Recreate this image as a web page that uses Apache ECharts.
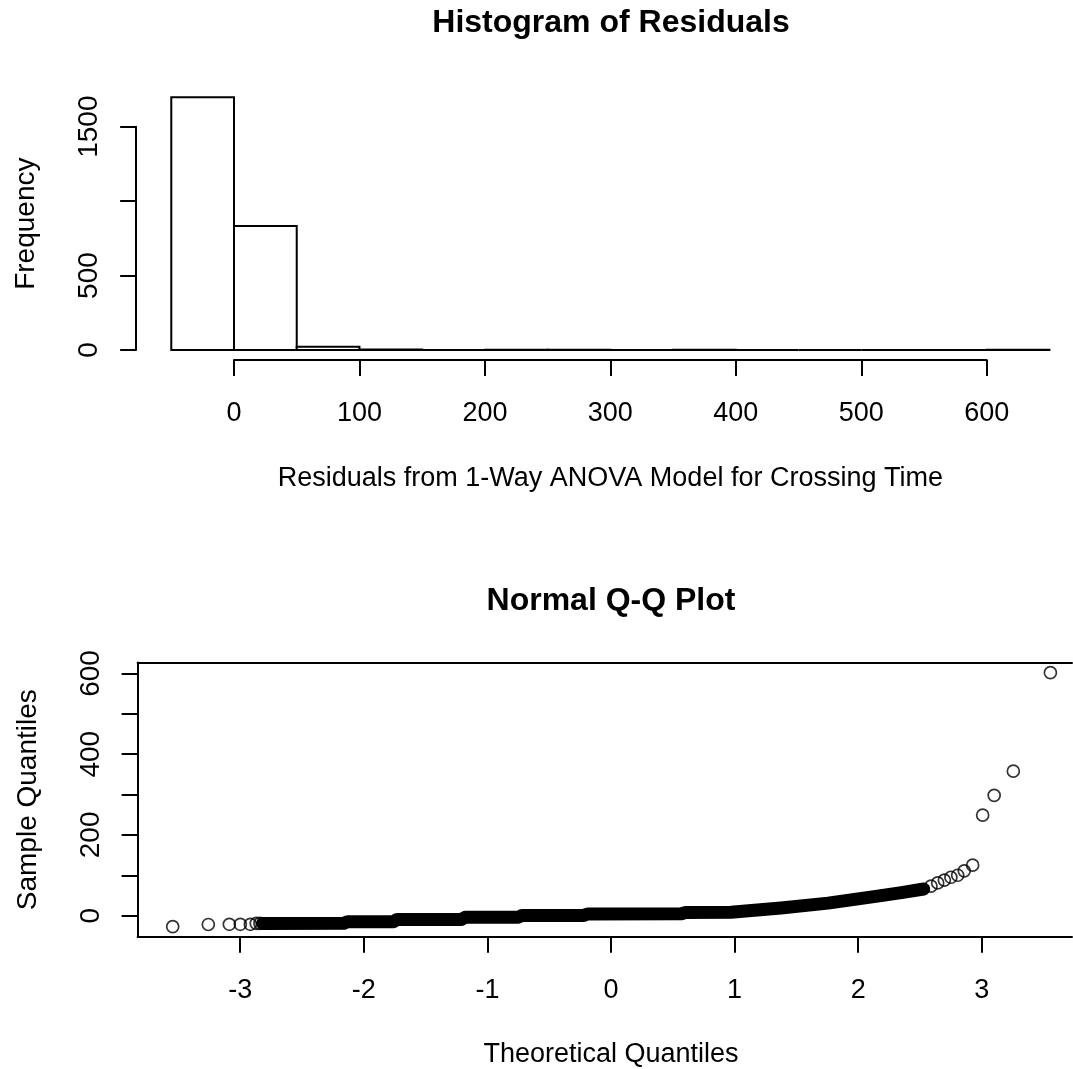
<!DOCTYPE html>
<html>
<head>
<meta charset="utf-8">
<script src="https://cdn.jsdelivr.net/npm/echarts@6/dist/echarts.min.js"></script>
<style>
html,body{margin:0;padding:0;background:#fff;}
#chart{width:1073px;height:1069px;}
</style>
</head>
<body>
<div id="chart"></div>
<script>
// ---------------- data ----------------
// Histogram of residuals: bin edges and counts
const histBreaks = [-50, 0, 50, 100, 150, 200, 250, 300, 350, 400, 450, 500, 550, 600, 650];
const histCounts = [1697, 833, 22, 4, 0, 1, 1, 0, 1, 0, 0, 0, 0, 1];
const histXTickLabels = ['0', '100', '200', '300', '400', '500', '600'];
const histYTickLabels = ['0', '500', '', '1500'];   // R drops the 1000 label

// Normal Q-Q plot: [theoretical quantile, sample quantile]
// sparse lower tail (individual circles)
const qqLowTailX = [-3.546, -3.258, -3.088, -2.999, -2.918, -2.87, -2.84];
const qqLowTailY = [-27.5, -22, -21.5, -21.5, -21.5, -19.5, -19.5];
// dense middle band (thousands of overlapping circles -> solid band)
const qqBandX = [-2.82, -2.16, -2.13, -1.76, -1.73, -1.21, -1.18, -0.75, -0.72, -0.22, -0.19, 0.57, 0.60, 0.97, 1.375, 1.756, 2.128, 2.35, 2.53];
const qqBandY = [-19.5, -19, -15, -15, -9.5, -9.5, -4, -4, 0.5, 0.5, 4, 4.5, 7.5, 8.5, 19, 31, 47, 57, 66];
// sparse upper tail (individual circles)
const qqHighTailX = [2.589, 2.643, 2.697, 2.75, 2.805, 2.858, 2.926, 3.007, 3.10, 3.255, 3.555];
const qqHighTailY = [73, 81, 88, 95, 100, 111, 125, 249, 298, 358, 602];
const qqXTickLabels = ['-3', '-2', '-1', '0', '1', '2', '3'];
const qqYTickLabels = ['0', '', '200', '', '400', '', '600'];

// ---------------- fonts ----------------
// The reference text is a tall, slightly condensed Arial: use Liberation Sans Narrow when present.
function hasFont(name) {
  const c = document.createElement('canvas').getContext('2d');
  const probe = 'Residuals from 1-Way ANOVA 0123456789';
  c.font = '40px monospace';
  const a = c.measureText(probe).width;
  c.font = '40px "' + name + '", monospace';
  const b = c.measureText(probe).width;
  return Math.abs(a - b) > 0.5;
}
const NARROW = hasFont('Liberation Sans Narrow');
const FONT = NARROW ? '"Liberation Sans Narrow", "Liberation Sans", Arial, sans-serif'
                    : '"Liberation Sans", Arial, Helvetica, sans-serif';
const TFONT = '"Liberation Sans", Arial, Helvetica, sans-serif';
const FS = NARROW ? 32 : 27;        // horizontal text
const FSR = NARROW ? 32.5 : 28;     // rotated text
const TFS = 32;
const INK = '#000';
const W = 1073;

// ---------------- layout ----------------
// histogram pixel mapping
const HX0 = 234, HXS = 1.2545, HY0 = 350, HYS = 0.14887;
// qq pixel mapping
const QX0 = 611, QXS = 123.6, QY0 = 915.6, QYS = 0.4035;

function expand(lo, hi) { const d = (hi - lo) * 0.04; return [lo - d, hi + d]; }

const hX = expand(histBreaks[0], histBreaks[histBreaks.length - 1]);
const hY = expand(0, Math.max(...histCounts));
const allQX = qqLowTailX.concat(qqBandX, qqHighTailX);
const allQY = qqLowTailY.concat(qqBandY, qqHighTailY);
const qX = expand(Math.min(...allQX), Math.max(...allQX));
const qY = expand(Math.min(...allQY), Math.max(...allQY));
// the plot regions run past the right edge of the picture: stop them at the edge
const hXmax = Math.min(hX[1], (W - 1 - HX0) / HXS);
const qXmax = Math.min(qX[1], (W - 1 - QX0) / QXS);

const histTickMax = 600, histYTickMax = 1500;

const gridBase = { containLabel: false, outerBoundsMode: 'none' };
const grids = [
  // 0 histogram plot region
  { ...gridBase, left: HX0 + hX[0] * HXS, top: HY0 - hY[1] * HYS, width: (hXmax - hX[0]) * HXS, height: (hY[1] - hY[0]) * HYS },
  // 1 histogram x axis (0..600)
  { ...gridBase, left: HX0, top: HY0 - hY[1] * HYS, width: histTickMax * HXS, height: (hY[1] - hY[0]) * HYS },
  // 2 histogram y axis (0..1500)
  { ...gridBase, left: HX0 + hX[0] * HXS, top: HY0 - histYTickMax * HYS, width: 100, height: histYTickMax * HYS },
  // 3 qq plot region
  { ...gridBase, left: QX0 + qX[0] * QXS, top: QY0 - qY[1] * QYS, width: (qXmax - qX[0]) * QXS, height: (qY[1] - qY[0]) * QYS },
  // 4 qq x axis (-3..3)
  { ...gridBase, left: QX0 - 3 * QXS, top: QY0 - qY[1] * QYS, width: 6 * QXS, height: (qY[1] - qY[0]) * QYS },
  // 5 qq y axis (0..600)
  { ...gridBase, left: QX0 + qX[0] * QXS, top: QY0 - 600 * QYS, width: 100, height: 600 * QYS }
];

// label centres measured on the reference (distance from the axis line)
const XLAB_C = 53, XNAME_C = 118, YLAB_C = 47, YNAME_C = 110;

const hiddenAxis = (grid) => ({ gridIndex: grid, type: 'value', show: false });
const nameStyle = { fontFamily: FONT, fontSize: FS, color: INK };
const nameStyleR = { fontFamily: FONT, fontSize: FSR, color: INK };
const labelStyle = { fontFamily: FONT, fontSize: FS, color: INK };
const labelStyleR = { fontFamily: FONT, fontSize: FSR, color: INK };
const boxLine = { show: true, onZero: false, lineStyle: { color: INK, width: 2 } };
const tick = { show: true, inside: false, length: 16, lineStyle: { color: INK, width: 2 } };
const off = { show: false };

const option = {
  animation: false,
  backgroundColor: '#fff',
  title: [
    { text: 'Histogram of Residuals', left: 611, top: 7, textAlign: 'center', padding: 0,
      textStyle: { fontFamily: TFONT, fontSize: TFS, fontWeight: 'bold', color: INK } },
    { text: 'Normal Q-Q Plot', left: 611, top: 585, textAlign: 'center', padding: 0,
      textStyle: { fontFamily: TFONT, fontSize: TFS, fontWeight: 'bold', color: INK } }
  ],
  grid: grids,
  xAxis: [
    // 0 histogram data axis (hidden)
    { gridIndex: 0, type: 'value', min: hX[0], max: hXmax,
      axisLine: off, axisTick: off, axisLabel: off, splitLine: off },
    // 1 histogram visible x axis
    { gridIndex: 1, type: 'value', min: 0, max: histTickMax, interval: 100,
      axisLine: boxLine, axisTick: tick,
      axisLabel: { show: true, margin: XLAB_C - FS / 2, ...labelStyle, formatter: (v) => histXTickLabels[Math.round(v / 100)] ?? '' },
      splitLine: off,
      name: 'Residuals from 1-Way ANOVA Model for Crossing Time', nameLocation: 'middle', nameGap: XNAME_C - FS / 2, nameTextStyle: nameStyle },
    hiddenAxis(2),
    // 3 qq data axis: bottom edge of the box
    { gridIndex: 3, type: 'value', min: qX[0], max: qXmax, position: 'bottom',
      axisLine: boxLine, axisTick: off, axisLabel: off, splitLine: off },
    // 4 qq visible x ticks
    { gridIndex: 4, type: 'value', min: -3, max: 3, interval: 1,
      axisLine: { show: false, onZero: false }, axisTick: tick,
      axisLabel: { show: true, margin: XLAB_C + 1 - FS / 2, ...labelStyle, formatter: (v) => qqXTickLabels[Math.round(v + 3)] ?? '' },
      splitLine: off,
      name: 'Theoretical Quantiles', nameLocation: 'middle', nameGap: XNAME_C - FS / 2, nameTextStyle: nameStyle },
    hiddenAxis(5),
    // 6 qq top edge of the box
    { gridIndex: 3, type: 'value', min: qX[0], max: qXmax, position: 'top',
      axisLine: boxLine, axisTick: off, axisLabel: off, splitLine: off }
  ],
  yAxis: [
    { gridIndex: 0, type: 'value', min: hY[0], max: hY[1],
      axisLine: off, axisTick: off, axisLabel: off, splitLine: off,
      name: 'Frequency', nameLocation: 'middle', nameRotate: 90, nameGap: YNAME_C - FSR / 2, nameTextStyle: nameStyleR },
    hiddenAxis(1),
    { gridIndex: 2, type: 'value', min: 0, max: histYTickMax, interval: 500,
      axisLine: boxLine, axisTick: tick,
      axisLabel: { show: true, rotate: 90, margin: YLAB_C - FSR / 2, ...labelStyleR, formatter: (v) => histYTickLabels[Math.round(v / 500)] ?? '' },
      splitLine: off },
    // 3 qq data axis: left edge of the box
    { gridIndex: 3, type: 'value', min: qY[0], max: qY[1],
      axisLine: boxLine, axisTick: off, axisLabel: off, splitLine: off,
      name: 'Sample Quantiles', nameLocation: 'middle', nameRotate: 90, nameGap: YNAME_C - 1 - FSR / 2, nameTextStyle: nameStyleR },
    hiddenAxis(4),
    { gridIndex: 5, type: 'value', min: 0, max: 600, interval: 100,
      axisLine: { show: false, onZero: false }, axisTick: tick,
      axisLabel: { show: true, rotate: 90, margin: YLAB_C - 1 - FSR / 2, ...labelStyleR, formatter: (v) => qqYTickLabels[Math.round(v / 100)] ?? '' },
      splitLine: off }
  ],
  series: [
    {
      type: 'custom', name: 'Histogram', xAxisIndex: 0, yAxisIndex: 0,
      data: histCounts.map((c, i) => [histBreaks[i], histBreaks[i + 1], c]),
      encode: { x: [0, 1], y: 2 },
      renderItem: function (params, api) {
        const p0 = api.coord([api.value(0), 0]);
        const p1 = api.coord([api.value(1), api.value(2)]);
        return {
          type: 'rect',
          shape: { x: p0[0], y: p1[1], width: p1[0] - p0[0], height: p0[1] - p1[1] },
          style: { fill: '#fff', stroke: INK, lineWidth: 2 }
        };
      }
    },
    {
      type: 'line', name: 'QQ band', xAxisIndex: 3, yAxisIndex: 3,
      data: qqBandX.map((x, i) => [x, qqBandY[i]]),
      showSymbol: false, symbol: 'none', silent: true,
      lineStyle: { color: INK, width: 13, cap: 'round', join: 'round' }
    },
    {
      type: 'scatter', name: 'QQ low tail', xAxisIndex: 3, yAxisIndex: 3,
      data: qqLowTailX.map((x, i) => [x, qqLowTailY[i]]),
      symbol: 'circle', symbolSize: 12,
      itemStyle: { color: 'rgba(255,255,255,0)', borderColor: INK, borderWidth: 1.7 }
    },
    {
      type: 'scatter', name: 'QQ high tail', xAxisIndex: 3, yAxisIndex: 3,
      data: qqHighTailX.map((x, i) => [x, qqHighTailY[i]]),
      symbol: 'circle', symbolSize: 12,
      itemStyle: { color: 'rgba(255,255,255,0)', borderColor: INK, borderWidth: 1.7 }
    }
  ]
};

const chart = echarts.init(document.getElementById('chart'), null, { renderer: 'canvas' });
chart.setOption(option);
</script>
</body>
</html>
